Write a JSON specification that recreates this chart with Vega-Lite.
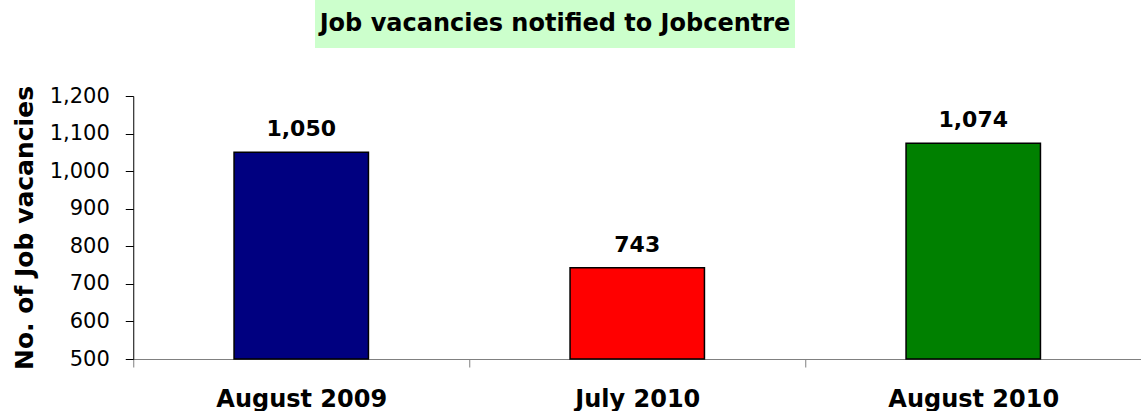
{
  "$schema": "https://vega.github.io/schema/vega-lite/v6.json",
  "padding": {"left": 12, "top": 0, "right": 0, "bottom": 0},
  "background": "white",
  "config": {"font": "DejaVu Sans", "concat": {"spacing": 37}},
  "center": true,
  "vconcat": [
    {
      "width": 480,
      "height": 48,
      "data": {"values": [{"title": "Job vacancies notified to Jobcentre"}]},
      "view": {"fill": "#CCFFCC", "stroke": null},
      "mark": {"type": "text", "font": "DejaVu Sans", "fontWeight": "bold", "fontSize": 24, "color": "black", "baseline": "middle"},
      "encoding": {
        "text": {"field": "title", "type": "nominal"},
        "y": {"datum": 0, "type": "quantitative", "scale": {"domain": [-1, 1]}, "axis": {"orient": "right", "title": "_", "titleColor": "transparent", "labels": false, "ticks": false, "domain": false, "grid": false, "titlePadding": 152, "titleFontSize": 12}}
      }
    },
    {
      "width": 1008,
      "height": 263,
      "view": {"stroke": null},
      "data": {"values": [
        {"period": "August 2009", "value": 1050},
        {"period": "July 2010", "value": 743},
        {"period": "August 2010", "value": 1074}
      ]},
      "encoding": {
        "x": {"field": "period", "type": "nominal", "sort": null,
          "scale": {"paddingInner": 0, "paddingOuter": 0},
          "axis": {"title": null, "labelAngle": 0, "labelFont": "DejaVu Sans", "labelFontWeight": "bold", "labelFontSize": 24, "labelColor": "black", "labelPadding": 20, "tickBand": "extent", "tickSize": 8, "tickColor": "#808080", "domainColor": "#808080", "domainWidth": 1, "grid": false}
        },
        "y": {"field": "value", "type": "quantitative",
          "scale": {"domain": [500, 1200], "zero": false, "nice": false},
          "axis": {"title": "No. of Job vacancies", "titleFont": "DejaVu Sans", "titleFontSize": 25, "titleFontWeight": "bold", "titleColor": "black", "titlePadding": 12, "values": [500, 600, 700, 800, 900, 1000, 1100, 1200], "format": ",d", "labelFontSize": 21, "labelColor": "black", "labelPadding": 16, "tickSize": 8, "tickColor": "black", "domainColor": "black", "grid": false}
        }
      },
      "layer": [
        {
          "mark": {"type": "bar", "width": {"band": 0.4}, "stroke": "black", "strokeWidth": 1.5},
          "encoding": {
            "y2": {"datum": 500},
            "color": {"field": "period", "type": "nominal", "scale": {"domain": ["August 2009", "July 2010", "August 2010"], "range": ["#000080", "#FF0000", "#008000"]}, "legend": null}
          }
        },
        {
          "mark": {"type": "text", "dy": -16, "baseline": "alphabetic", "fontWeight": "bold", "fontSize": 22, "color": "black"},
          "encoding": {"text": {"field": "value", "type": "quantitative", "format": ",d"}}
        }
      ]
    }
  ]
}
